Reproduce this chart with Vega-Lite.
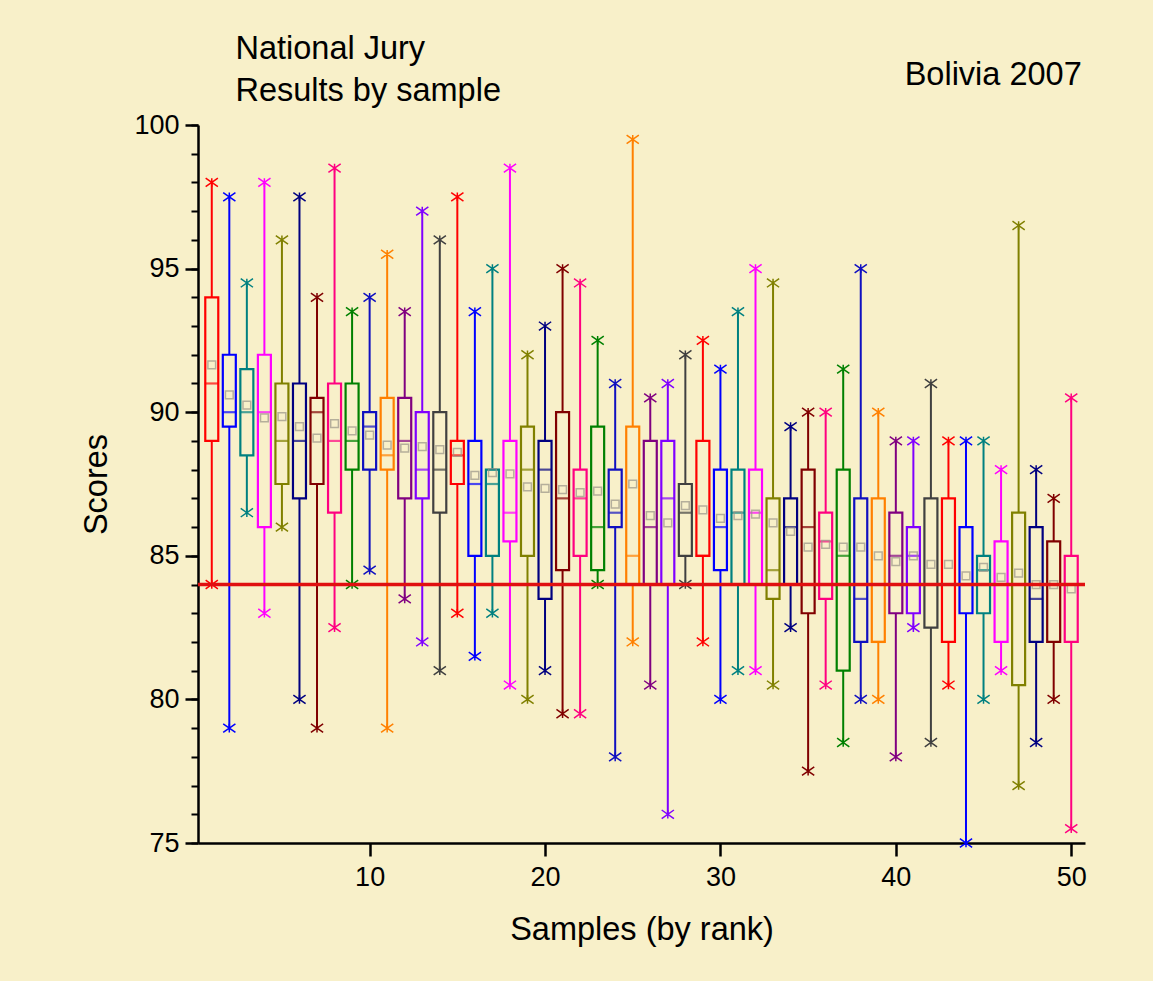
{
  "$schema": "https://vega.github.io/schema/vega-lite/v6.json",
  "autosize": {"type": "none"},
  "padding": {"left": 198, "top": 125, "right": 68, "bottom": 138},
  "width": 887,
  "height": 718,
  "background": "#F8F0C9",
  "config": {
    "view": {"stroke": null},
    "font": "Liberation Sans",
    "axis": {"labelFont": "Liberation Sans", "titleFont": "Liberation Sans", "labelColor": "black", "titleColor": "black", "domainColor": "black", "tickColor": "black", "titleFontWeight": "normal", "grid": false}
  },
  "datasets": {
    "samples": [
      {"sample": 1, "min": 84, "q1": 89, "med": 91, "q3": 94, "max": 98, "mean": 91.65},
      {"sample": 2, "min": 79, "q1": 89.5, "med": 90, "q3": 92, "max": 97.5, "mean": 90.6},
      {"sample": 3, "min": 86.5, "q1": 88.5, "med": 90, "q3": 91.5, "max": 94.5, "mean": 90.25},
      {"sample": 4, "min": 83, "q1": 86, "med": 90, "q3": 92, "max": 98, "mean": 89.8},
      {"sample": 5, "min": 86, "q1": 87.5, "med": 89, "q3": 91, "max": 96, "mean": 89.85},
      {"sample": 6, "min": 80, "q1": 87, "med": 89, "q3": 91, "max": 97.5, "mean": 89.5},
      {"sample": 7, "min": 79, "q1": 87.5, "med": 90, "q3": 90.5, "max": 94, "mean": 89.1},
      {"sample": 8, "min": 82.5, "q1": 86.5, "med": 89, "q3": 91, "max": 98.5, "mean": 89.6},
      {"sample": 9, "min": 84, "q1": 88, "med": 89, "q3": 91, "max": 93.5, "mean": 89.35},
      {"sample": 10, "min": 84.5, "q1": 88, "med": 89.5, "q3": 90, "max": 94, "mean": 89.2},
      {"sample": 11, "min": 79, "q1": 88, "med": 88.5, "q3": 90.5, "max": 95.5, "mean": 88.85},
      {"sample": 12, "min": 83.5, "q1": 87, "med": 89, "q3": 90.5, "max": 93.5, "mean": 88.75},
      {"sample": 13, "min": 82, "q1": 87, "med": 88, "q3": 90, "max": 97, "mean": 88.8},
      {"sample": 14, "min": 81, "q1": 86.5, "med": 88, "q3": 90, "max": 96, "mean": 88.7},
      {"sample": 15, "min": 83, "q1": 87.5, "med": 88.5, "q3": 89, "max": 97.5, "mean": 88.6},
      {"sample": 16, "min": 81.5, "q1": 85, "med": 87.5, "q3": 89, "max": 93.5, "mean": 87.8},
      {"sample": 17, "min": 83, "q1": 85, "med": 87.5, "q3": 88, "max": 95, "mean": 87.9},
      {"sample": 18, "min": 80.5, "q1": 85.5, "med": 86.5, "q3": 89, "max": 98.5, "mean": 87.85},
      {"sample": 19, "min": 80, "q1": 85, "med": 88, "q3": 89.5, "max": 92, "mean": 87.4},
      {"sample": 20, "min": 81, "q1": 83.5, "med": 88, "q3": 89, "max": 93, "mean": 87.35},
      {"sample": 21, "min": 79.5, "q1": 84.5, "med": 87, "q3": 90, "max": 95, "mean": 87.3},
      {"sample": 22, "min": 79.5, "q1": 85, "med": 87, "q3": 88, "max": 94.5, "mean": 87.2},
      {"sample": 23, "min": 84, "q1": 84.5, "med": 86, "q3": 89.5, "max": 92.5, "mean": 87.25},
      {"sample": 24, "min": 78, "q1": 86, "med": 86.5, "q3": 88, "max": 91, "mean": 86.8},
      {"sample": 25, "min": 82, "q1": 84, "med": 85, "q3": 89.5, "max": 99.5, "mean": 87.5},
      {"sample": 26, "min": 80.5, "q1": 84, "med": 86, "q3": 89, "max": 90.5, "mean": 86.4},
      {"sample": 27, "min": 76, "q1": 84, "med": 87, "q3": 89, "max": 91, "mean": 86.15},
      {"sample": 28, "min": 84, "q1": 85, "med": 86.5, "q3": 87.5, "max": 92, "mean": 86.75},
      {"sample": 29, "min": 82, "q1": 85, "med": 85, "q3": 89, "max": 92.5, "mean": 86.6},
      {"sample": 30, "min": 80, "q1": 84.5, "med": 86, "q3": 88, "max": 91.5, "mean": 86.3},
      {"sample": 31, "min": 81, "q1": 84, "med": 86.5, "q3": 88, "max": 93.5, "mean": 86.4},
      {"sample": 32, "min": 81, "q1": 84, "med": 86.5, "q3": 88, "max": 95, "mean": 86.45},
      {"sample": 33, "min": 80.5, "q1": 83.5, "med": 84.5, "q3": 87, "max": 94.5, "mean": 86.15},
      {"sample": 34, "min": 82.5, "q1": 84, "med": 86, "q3": 87, "max": 89.5, "mean": 85.85},
      {"sample": 35, "min": 77.5, "q1": 83, "med": 86, "q3": 88, "max": 90, "mean": 85.3},
      {"sample": 36, "min": 80.5, "q1": 83.5, "med": 85.5, "q3": 86.5, "max": 90, "mean": 85.4},
      {"sample": 37, "min": 78.5, "q1": 81, "med": 85, "q3": 88, "max": 91.5, "mean": 85.3},
      {"sample": 38, "min": 80, "q1": 82, "med": 83.5, "q3": 87, "max": 95, "mean": 85.3},
      {"sample": 39, "min": 80, "q1": 82, "med": 82, "q3": 87, "max": 90, "mean": 85.0},
      {"sample": 40, "min": 78, "q1": 83, "med": 85, "q3": 86.5, "max": 89, "mean": 84.8},
      {"sample": 41, "min": 82.5, "q1": 83, "med": 85, "q3": 86, "max": 89, "mean": 85.0},
      {"sample": 42, "min": 78.5, "q1": 82.5, "med": 84, "q3": 87, "max": 91, "mean": 84.7},
      {"sample": 43, "min": 80.5, "q1": 82, "med": 84, "q3": 87, "max": 89, "mean": 84.7},
      {"sample": 44, "min": 75, "q1": 83, "med": 84, "q3": 86, "max": 89, "mean": 84.3},
      {"sample": 45, "min": 80, "q1": 83, "med": 84.5, "q3": 85, "max": 89, "mean": 84.6},
      {"sample": 46, "min": 81, "q1": 82, "med": 84, "q3": 85.5, "max": 88, "mean": 84.25},
      {"sample": 47, "min": 77, "q1": 80.5, "med": 84, "q3": 86.5, "max": 96.5, "mean": 84.4},
      {"sample": 48, "min": 78.5, "q1": 82, "med": 83.5, "q3": 86, "max": 88, "mean": 84.0},
      {"sample": 49, "min": 80, "q1": 82, "med": 84, "q3": 85.5, "max": 87, "mean": 84.0},
      {"sample": 50, "min": 75.5, "q1": 82, "med": 84, "q3": 85, "max": 90.5, "mean": 83.85}
    ],
    "reference": [{"level": 84}],
    "leftLabels": [
      {"label": "National Jury", "lx": 2.35, "ly": 102.3},
      {"label": "Results by sample", "lx": 2.35, "ly": 100.85}
    ],
    "rightLabels": [
      {"label": "Bolivia 2007", "lx": 50.6, "ly": 101.4}
    ]
  },
  "resolve": {"axis": {"x": "independent", "y": "independent"}},
  "layer": [
    {
      "data": {"name": "samples"},
      "mark": {"type": "rule", "strokeWidth": 2},
      "encoding": {
        "x": {"field": "sample", "type": "quantitative", "scale": {"domain": [0.5, 50.5], "nice": false, "zero": false},
          "axis": {"values": [10, 20, 30, 40, 50], "labelFontSize": 27, "tickSize": 13, "tickWidth": 2.5, "domainWidth": 2.5, "labelPadding": 8, "title": "Samples (by rank)", "titleFontSize": 32.5, "titlePadding": 23}},
        "y": {"field": "min", "type": "quantitative", "scale": {"domain": [75, 100], "nice": false, "zero": false},
          "axis": {"orient": "left", "values": [75, 80, 85, 90, 95, 100], "labelFontSize": 27, "tickSize": 13, "tickWidth": 2.5, "domainWidth": 2.5, "labelPadding": 6, "title": "Scores", "titleFontSize": 32.5, "titlePadding": 20}},
        "y2": {"field": "max"},
        "color": {"field": "sample", "type": "ordinal", "legend": null,
          "scale": {"range": ["#FF0000", "#0000FF", "#008080", "#FF00FF", "#808000", "#000080", "#800000", "#FF0080", "#008000", "#1010C0", "#FF8000", "#800080", "#8000FF", "#404040"]}}
      }
    },
    {
      "data": {"name": "samples"},
      "mark": {"type": "rule", "strokeWidth": 0},
      "encoding": {
        "x": {"field": "sample", "type": "quantitative", "axis": null},
        "y": {"field": "min", "type": "quantitative",
          "axis": {"orient": "left", "values": [75, 76, 77, 78, 79, 80, 81, 82, 83, 84, 85, 86, 87, 88, 89, 90, 91, 92, 93, 94, 95, 96, 97, 98, 99, 100], "labels": false, "domain": false, "tickSize": 7, "tickWidth": 2, "title": null}},
        "y2": {"field": "max"}
      }
    },
    {
      "data": {"name": "samples"},
      "mark": {"type": "bar", "width": 13, "fill": "#F8F0C9", "strokeWidth": 2.2},
      "encoding": {
        "x": {"field": "sample", "type": "quantitative", "axis": null},
        "y": {"field": "q1", "type": "quantitative", "axis": null},
        "y2": {"field": "q3"},
        "stroke": {"field": "sample", "type": "ordinal", "legend": null,
          "scale": {"range": ["#FF0000", "#0000FF", "#008080", "#FF00FF", "#808000", "#000080", "#800000", "#FF0080", "#008000", "#1010C0", "#FF8000", "#800080", "#8000FF", "#404040"]}}
      }
    },
    {
      "data": {"name": "samples"},
      "mark": {"type": "tick", "orient": "horizontal", "size": 14, "thickness": 2.2},
      "encoding": {
        "x": {"field": "sample", "type": "quantitative", "axis": null},
        "y": {"field": "med", "type": "quantitative", "axis": null},
        "color": {"field": "sample", "type": "ordinal", "legend": null}
      }
    },
    {
      "data": {"name": "samples"},
      "mark": {"type": "point", "shape": "square", "filled": false, "size": 60, "strokeWidth": 1.5, "color": "#9A9488"},
      "encoding": {
        "x": {"field": "sample", "type": "quantitative", "axis": null},
        "y": {"field": "mean", "type": "quantitative", "axis": null}
      }
    },
    {
      "data": {"name": "samples"},
      "mark": {"type": "point", "shape": "M-1,-0.7L1,0.7M-1,0.7L1,-0.7M0,-0.7L0,0.7", "filled": false, "size": 150, "strokeWidth": 1.5, "opacity": 1},
      "encoding": {
        "x": {"field": "sample", "type": "quantitative", "axis": null},
        "y": {"field": "max", "type": "quantitative", "axis": null},
        "color": {"field": "sample", "type": "ordinal", "legend": null}
      }
    },
    {
      "data": {"name": "samples"},
      "mark": {"type": "point", "shape": "M-1,-0.7L1,0.7M-1,0.7L1,-0.7M0,-0.7L0,0.7", "filled": false, "size": 150, "strokeWidth": 1.5, "opacity": 1},
      "encoding": {
        "x": {"field": "sample", "type": "quantitative", "axis": null},
        "y": {"field": "min", "type": "quantitative", "axis": null},
        "color": {"field": "sample", "type": "ordinal", "legend": null}
      }
    },
    {
      "data": {"name": "reference"},
      "mark": {"type": "rule", "color": "#E01010", "strokeWidth": 3.5},
      "encoding": {
        "y": {"field": "level", "type": "quantitative", "axis": null}
      }
    },
    {
      "data": {"name": "leftLabels"},
      "mark": {"type": "text", "align": "left", "baseline": "alphabetic", "fontSize": 32.5, "font": "Liberation Sans", "color": "black", "clip": false},
      "encoding": {
        "x": {"field": "lx", "type": "quantitative", "axis": null},
        "y": {"field": "ly", "type": "quantitative", "axis": null},
        "text": {"field": "label"}
      }
    },
    {
      "data": {"name": "rightLabels"},
      "mark": {"type": "text", "align": "right", "baseline": "alphabetic", "fontSize": 32.5, "font": "Liberation Sans", "color": "black", "clip": false},
      "encoding": {
        "x": {"field": "lx", "type": "quantitative", "axis": null},
        "y": {"field": "ly", "type": "quantitative", "axis": null},
        "text": {"field": "label"}
      }
    }
  ]
}
